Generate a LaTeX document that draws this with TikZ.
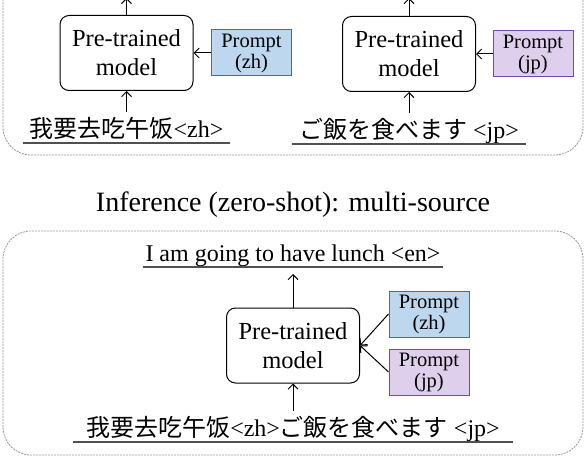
\documentclass[tikz,border=0pt]{standalone}
\usepackage{fontspec}
\setmainfont{Liberation Serif}
\newfontfamily\zhfont{Noto Sans CJK SC}
\newfontfamily\jpfont{Noto Sans CJK JP}
\usetikzlibrary{positioning, arrows.meta}
\definecolor{zhfill}{RGB}{189,215,238}
\definecolor{zhline}{RGB}{65,113,156}
\definecolor{jpfill}{RGB}{222,207,236}
\definecolor{jpline}{RGB}{125,70,170}
\definecolor{framegray}{RGB}{150,150,150}
\definecolor{ulgray}{RGB}{80,80,80}

\tikzset{
  >={Straight Barb[length=5pt, width=10pt]},
  model/.style={draw, line width=1pt, rounded corners=9pt, minimum width=133pt,
    minimum height=75pt, align=center, font=\fontsize{24.5}{29}\selectfont},
  prompt/.style={draw, line width=1pt, minimum width=80pt, minimum height=46pt,
    align=center, inner sep=1pt, font=\fontsize{20.5}{21}\selectfont},
  zhprompt/.style={prompt, fill=zhfill, draw=zhline},
  jpprompt/.style={prompt, fill=jpfill, draw=jpline},
  sentence/.style={inner xsep=0pt, inner ysep=5pt, text depth=0pt, text height=21pt,
    font=\fontsize{24}{28}\selectfont},
  uline/.style={draw=ulgray, line width=1.2pt},
  frame/.style={draw=framegray, line width=0.8pt, dash pattern=on 2pt off 1pt,
    rounded corners=28pt},
  link/.style={->, line width=1pt},
}

\begin{document}
\begin{tikzpicture}[x=1pt, y=1pt]
    \useasboundingbox (0,0) rectangle (586,456);
    \clip (0,0) rectangle (586,456);

    % Frames
    \draw[frame] (3,301) rectangle (583,500);
    \draw[frame] (3,1) rectangle (583,225);

    % Top: zh
    \node[model] (mzh) at (126.5,403) {Pre-trained\\model};
    \node[zhprompt] (pzh) at (251.5,403) {Prompt\\(zh)};
    \node[sentence, minimum width=207pt, anchor=south] (szh) at (126.5,313)
        {\zhfont 我要去吃午饭\rmfamily<zh>};
    \coordinate (ozh) at (126.5,458);

    % Top: jp
    \node[model] (mjp) at (409,402) {Pre-trained\\model};
    \node[jpprompt] (pjp) at (533,402) {Prompt\\(jp)};
    \node[sentence, minimum width=233pt, anchor=south] (sjp) at (409,312)
        {\jpfont ご飯を食べます\rmfamily\ <jp>};
    \coordinate (ojp) at (409,458);

    \draw[link] (szh) -- (mzh);
    \draw[link] (pzh) -- (mzh);
    \draw[link] (mzh) -- (ozh);
    \draw[link] (sjp) -- (mjp);
    \draw[link] (pjp) -- (mjp);
    \draw[link] (mjp) -- (ojp);
    \draw[uline] (szh.south west) -- (szh.south east);
    \draw[uline] (sjp.south west) -- (sjp.south east);

    % Title
    \node[font=\fontsize{28}{32}\selectfont] (title) at (293,251)
        {Inference (zero-shot): multi-source};

    % Bottom: multi-source
    \node[model] (mmulti) at (293,110.5) {Pre-trained\\model};
    \node[zhprompt] (pmzh) at (429,142) {Prompt\\(zh)};
    \node[jpprompt] (pmjp) at (429,84) {Prompt\\(jp)};
    \node[sentence, minimum width=300pt, anchor=south] (tgt) at (293,189)
        {I am going to have lunch <en>};
    \node[sentence, minimum width=439pt, anchor=south] (smulti) at (293,14)
        {\zhfont 我要去吃午饭\rmfamily<zh>\jpfont ご飯を食べます\rmfamily\ <jp>};

    \draw[link] (smulti) -- (mmulti);
    \draw[link] (pmzh.west) -- (mmulti.east);
    \draw[link] (pmjp.west) -- (mmulti.east);
    \draw[link, shorten >=7pt] (mmulti) -- (tgt.south);
    \draw[uline] (tgt.south west) -- (tgt.south east);
    \draw[uline] (smulti.south west) -- (smulti.south east);
\end{tikzpicture}
\end{document}
